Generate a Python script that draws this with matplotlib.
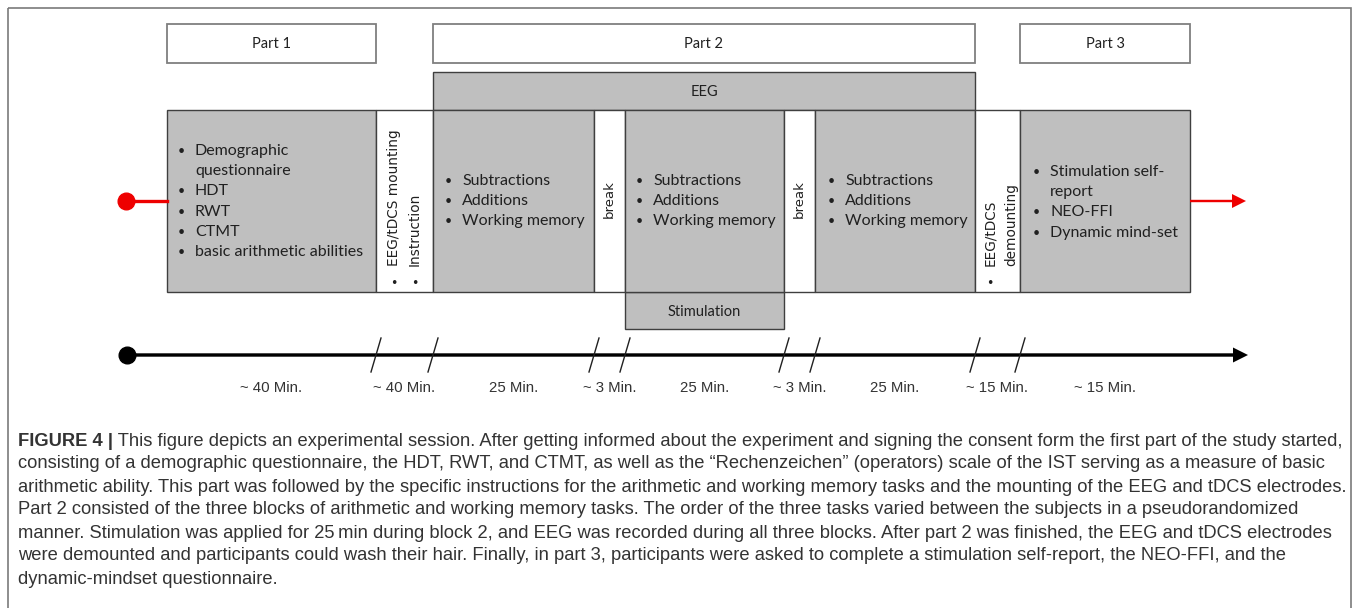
import matplotlib.pyplot as plt
from matplotlib.patches import Rectangle, FancyArrow

# ---- content ----
parts = ['Part 1', 'Part 2', 'Part 3']
part1_items = ['Demographic\nquestionnaire', 'HDT', 'RWT', 'CTMT', 'basic arithmetic abilities']
block_items = ['Subtractions', 'Additions', 'Working memory']
part3_items = ['Stimulation self-\nreport', 'NEO-FFI', 'Dynamic mind-set']
mount_items = ['EEG/tDCS mounting', 'Instruction']
demount_items = ['EEG/tDCS', 'demounting']
durations = ['~ 40 Min.', '~ 40 Min.', '25 Min.', '~ 3 Min.', '25 Min.',
             '~ 3 Min.', '25 Min.', '~ 15 Min.', '~ 15 Min.']
caption = [
    'This figure depicts an experimental session. After getting informed about the experiment and signing the consent form the first part of the study started,',
    'consisting of a demographic questionnaire, the HDT, RWT, and CTMT, as well as the \u201cRechenzeichen\u201d (operators) scale of the IST serving as a measure of basic',
    'arithmetic ability. This part was followed by the specific instructions for the arithmetic and working memory tasks and the mounting of the EEG and tDCS electrodes.',
    'Part 2 consisted of the three blocks of arithmetic and working memory tasks. The order of the three tasks varied between the subjects in a pseudorandomized',
    'manner. Stimulation was applied for 25\u2009min during block 2, and EEG was recorded during all three blocks. After part 2 was finished, the EEG and tDCS electrodes',
    'were demounted and participants could wash their hair. Finally, in part 3, participants were asked to complete a stimulation self-report, the NEO-FFI, and the',
    'dynamic-mindset questionnaire.',
]

# ---- layout (pixels) ----
edges = [167, 376, 433, 594, 625, 784, 815, 975, 1020, 1190]
row_top, row_bot = 110, 292
gray = '#bfbfbf'
dark = '#3f3f3f'
box_font = 'Lato'
rot_font = 'DejaVu Sans'
cap_size = 13.2

fig = plt.figure(figsize=(13.57, 6.08), dpi=100)
ax = fig.add_axes([0, 0, 1, 1])
ax.set_xlim(0, 1357)
ax.set_ylim(608, 0)
ax.axis('off')

# outer frame
ax.add_patch(Rectangle((8, 8), 1343, 640, fill=False, ec='#7a7a7a', lw=1.2))

# part header boxes
part_spans = [(edges[0], edges[1]), (edges[2], edges[7]), (edges[8], edges[9])]
for name, (x0, x1) in zip(parts, part_spans):
    ax.add_patch(Rectangle((x0, 24), x1 - x0, 39, fc='white', ec='#7f7f7f', lw=1.3))
    ax.text((x0 + x1) / 2, 44, name, ha='center', va='center', fontsize=10.5,
            family=box_font, color='#202020')

# EEG bar and stimulation bar
ax.add_patch(Rectangle((edges[2], 72), edges[7] - edges[2], row_top - 72, fc=gray, ec=dark, lw=1))
ax.text((edges[2] + edges[7]) / 2, 92, 'EEG', ha='center', va='center', fontsize=10.5,
        family=box_font, color='#202020')
ax.add_patch(Rectangle((edges[4], row_bot), edges[5] - edges[4], 37, fc=gray, ec=dark, lw=1))
ax.text((edges[4] + edges[5]) / 2, 312, 'Stimulation', ha='center', va='center', fontsize=10.5,
        family=box_font, color='#202020')

# main row
for i in range(len(edges) - 1):
    fc = gray if i % 2 == 0 else 'white'
    ax.add_patch(Rectangle((edges[i], row_top), edges[i + 1] - edges[i], row_bot - row_top,
                           fc=fc, ec=dark, lw=1))


def bullets(x, y0, items, step=20.2):
    y = y0
    for item in items:
        ax.text(x, y, '\u2022', ha='left', va='center', fontsize=9, family=box_font, color='#202020')
        for line in item.split('\n'):
            ax.text(x + 17, y, line, ha='left', va='center', fontsize=11.5,
                    family=box_font, color='#202020')
            y += step


bullets(178, 151, part1_items)
bullets(445, 181, block_items)
bullets(636, 181, block_items)
bullets(828, 181, block_items)
bullets(1033, 172, part3_items)

# rotated labels
for x, item in zip([394, 415], mount_items):
    ax.text(x, 283, '\u2022', ha='center', va='center', fontsize=9, color='#202020')
    ax.text(x, 266, item, rotation=90, rotation_mode='anchor', ha='left', va='center',
            fontsize=9.8, family=rot_font, color='#202020')
ax.text(990, 283, '\u2022', ha='center', va='center', fontsize=9, color='#202020')
for x, item in zip([990, 1011], demount_items):
    ax.text(x, 266, item, rotation=90, rotation_mode='anchor', ha='left', va='center',
            fontsize=9.8, family=rot_font, color='#202020')
for i in (3, 5):
    ax.text((edges[i] + edges[i + 1]) / 2, 199, 'break', rotation=90, ha='center', va='center',
            fontsize=9.5, family=rot_font, color='#202020')

# red start marker and arrow
ax.plot([126, edges[0]], [201, 201], color='#ee0000', lw=2.4, zorder=3)
ax.plot(126, 201, 'o', color='#ee0000', ms=12, zorder=4)
ax.add_patch(FancyArrow(edges[-1], 201, 56, 0, width=2.4, head_width=14, head_length=14,
                        length_includes_head=True, color='#ee0000', lw=0))

# timeline
ty = 355
ax.add_patch(FancyArrow(127, ty, 1121, 0, width=3.4, head_width=15, head_length=15,
                        length_includes_head=True, color='black', lw=0))
ax.plot(127, ty, 'o', color='black', ms=12)
for x in edges[1:-1]:
    ax.plot([x - 5, x + 5], [ty + 17, ty - 17], color='#202020', lw=1)
for i, lab in enumerate(durations):
    ax.text((edges[i] + edges[i + 1]) / 2, 388, lab, ha='center', va='center',
            fontsize=10.8, family='Liberation Sans', color='#333333')

# caption
cy = 441
t = ax.text(18, cy, 'FIGURE 4 |', ha='left', va='center', fontsize=cap_size, weight='bold',
            family='Liberation Sans', color='#333333')
ax.annotate(' ' + caption[0], xy=(1, 0.5), xycoords=t, ha='left', va='center', fontsize=cap_size,
            family='Liberation Sans', color='#333333')
for k, line in enumerate(caption[1:], start=1):
    ax.text(18, cy + 23 * k, line, ha='left', va='center', fontsize=cap_size,
            family=['Liberation Sans', 'DejaVu Sans'], color='#333333')

fig.savefig('out.png', dpi=100)
